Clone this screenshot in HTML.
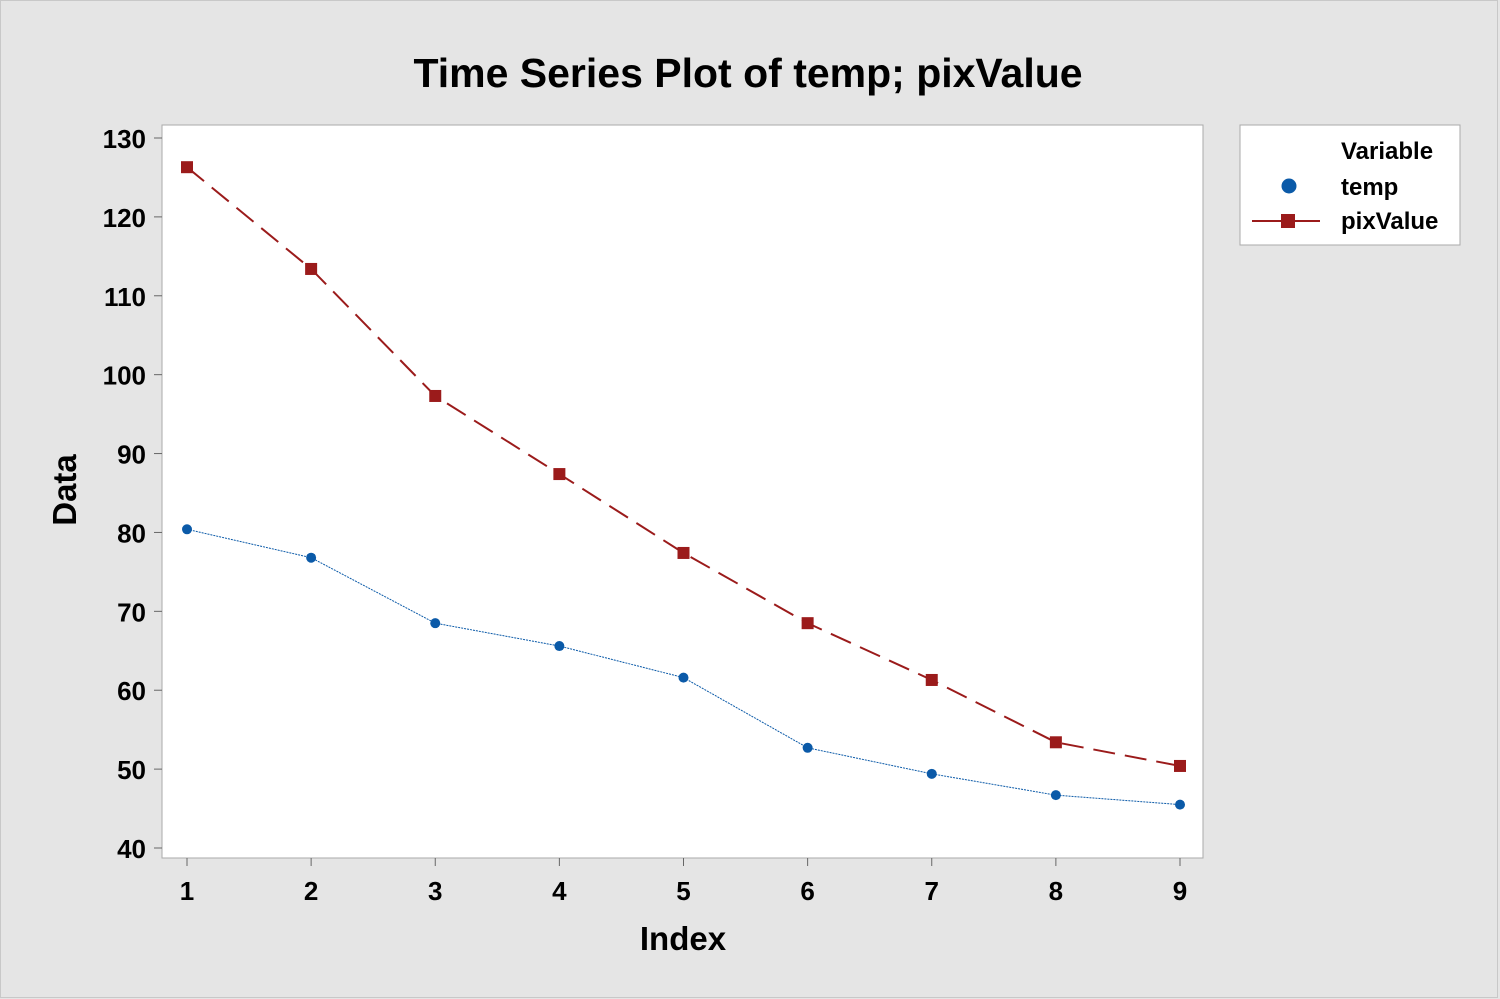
<!DOCTYPE html>
<html><head><meta charset="utf-8"><style>
html,body{margin:0;padding:0;background:#e5e5e5;}
svg{display:block;font-family:"Liberation Sans",Arial,sans-serif;}
</style></head><body>
<svg id="chart" width="1500" height="999" viewBox="0 0 1500 999">
<rect x="0.5" y="0.5" width="1497" height="997" fill="#e5e5e5" stroke="#c8c8c8"/>
<text x="748" y="87" text-anchor="middle" font-size="41" font-weight="bold">Time Series Plot of temp; pixValue</text>
<rect x="162" y="125" width="1041" height="733" fill="#fff" stroke="#aaa"/>
<g id="axes"></g>
<g id="series"></g>
<text x="683" y="950" text-anchor="middle" font-size="33" font-weight="bold">Index</text>
<text transform="translate(76,490) rotate(-90)" text-anchor="middle" font-size="33" font-weight="bold">Data</text>
<g>
<rect x="1240" y="125" width="220" height="120" fill="#fff" stroke="#aaa"/>
<text x="1341" y="159" font-size="24" font-weight="bold">Variable</text>
<circle cx="1289" cy="186" r="7.5" fill="#0b5aa8"/>
<text x="1341" y="195" font-size="24" font-weight="bold">temp</text>
<line x1="1252" y1="221" x2="1320" y2="221" stroke="#9b1b1b" stroke-width="2"/>
<rect x="1281" y="214" width="14" height="14" fill="#9b1b1b"/>
<text x="1341" y="229" font-size="24" font-weight="bold">pixValue</text>
</g>
</svg>
<script>
const indices=[1,2,3,4,5,6,7,8,9];
const tempValues=[80.4,76.8,68.5,65.6,61.6,52.7,49.4,46.7,45.5];
const pixValues=[126.3,113.4,97.3,87.4,77.4,68.5,61.3,53.4,50.4];
const yTicks=[40,50,60,70,80,90,100,110,120,130];
const NS='http://www.w3.org/2000/svg';
function xs(i){return 187+(i-1)*(1180-187)/8;}
function ys(v){return 848-(v-40)*(848-138)/90;}
function mk(tag,attrs,parent){const e=document.createElementNS(NS,tag);for(const k in attrs)e.setAttribute(k,attrs[k]);parent.appendChild(e);return e;}
const ax=document.getElementById('axes'),sr=document.getElementById('series');
yTicks.forEach(t=>{
 const l=mk('line',{x1:154,x2:162,y1:ys(t),y2:ys(t),stroke:'#666'},ax);
 
 
 const tx=mk('text',{x:146,y:ys(t)+10,'text-anchor':'end','font-size':26,'font-weight':'bold'},ax);
 tx.textContent=t;
 
 
});
indices.forEach(i=>{
 const l=mk('line',{x1:xs(i),x2:xs(i),y1:858,y2:866,stroke:'#666'},ax);
 
 
 const tx=mk('text',{x:xs(i),y:900,'text-anchor':'middle','font-size':26,'font-weight':'bold'},ax);
 tx.textContent=i;
 
 
});
const tp=mk('polyline',{points:indices.map((i,k)=>xs(i)+','+ys(tempValues[k])).join(' '),fill:'none',stroke:'#0b5aa8','stroke-width':1,'stroke-dasharray':'2 1'},sr);


const pp=mk('polyline',{points:indices.map((i,k)=>xs(i)+','+ys(pixValues[k])).join(' '),fill:'none',stroke:'#9b1b1b','stroke-width':2,'stroke-dasharray':'22 10'},sr);


indices.forEach((i,k)=>{
 const c=mk('circle',{cx:xs(i),cy:ys(tempValues[k]),r:5,fill:'#0b5aa8'},sr);
 
 
 const r=mk('rect',{x:xs(i)-6,y:ys(pixValues[k])-6,width:12,height:12,fill:'#9b1b1b'},sr);
 
 
});
</script>
</body></html>
